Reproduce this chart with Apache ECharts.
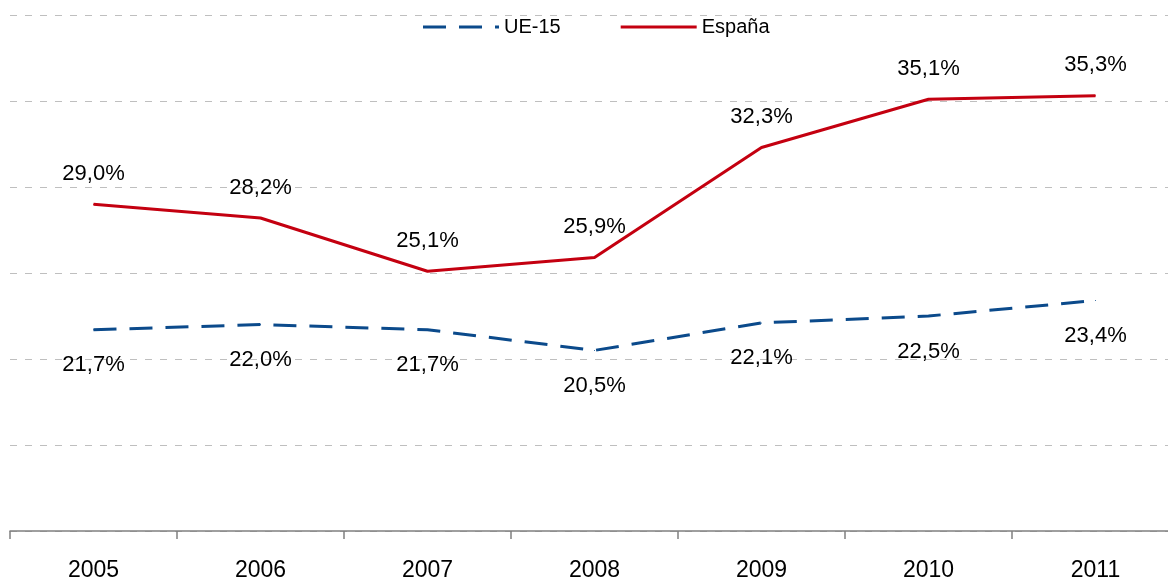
<!DOCTYPE html>
<html>
<head>
<meta charset="utf-8">
<script src="https://cdn.jsdelivr.net/npm/echarts@6/dist/echarts.min.js"></script>
<style>
  html, body { margin: 0; padding: 0; background: #fff; }
  #chart { width: 1168px; height: 579px; }
</style>
</head>
<body>
<div id="chart"></div>
<script>
// years and values (%)
var years = ['2005', '2006', '2007', '2008', '2009', '2010', '2011']
var ue15 = [21.7, 22.0, 21.7, 20.5, 22.1, 22.5, 23.4]
var espana = [29.0, 28.2, 25.1, 25.9, 32.3, 35.1, 35.3]

var font = '"Liberation Sans", Arial, sans-serif'
var blue = '#0b4a8b'
var red = '#c40010'

function pct(p) {
  return p.value.toFixed(1).replace('.', ',') + '%'
}

var chart = echarts.init(document.getElementById('chart'))
chart.setOption({
  animation: false,
  backgroundColor: '#fff',
  legend: {
    top: 17,
    left: 423,
    padding: 0,
    itemWidth: 76,
    itemHeight: 3,
    itemGap: 60,
    textStyle: { fontFamily: font, fontSize: 20, color: '#000' },
    data: [
      { name: 'UE-15', icon: 'path://M0,0h23v3h-23z M36,0h23v3h-23z M72,0h4v3h-4z' },
      { name: 'España', icon: 'rect' }
    ]
  },
  grid: {
    left: 10,
    top: 15,
    width: 1169,
    height: 516,
    outerBoundsMode: 'none'
  },
  xAxis: {
    type: 'category',
    data: years,
    boundaryGap: true,
    axisLine: { lineStyle: { color: '#808080', width: 1.5 } },
    axisTick: { show: true, inside: false, length: 8, lineStyle: { color: '#808080', width: 1.5 } },
    axisLabel: { margin: 28, fontFamily: font, fontSize: 23, color: '#000' },
    splitLine: { show: false }
  },
  yAxis: {
    type: 'value',
    min: 10,
    max: 40,
    interval: 5,
    axisLine: { show: false },
    axisTick: { show: false },
    axisLabel: { show: false },
    splitLine: { lineStyle: { color: '#bfbfbf', width: 1, type: [7, 8] } }
  },
  series: [
    {
      name: 'UE-15',
      type: 'line',
      data: ue15,
      symbol: 'circle',
      symbolSize: 1,
      lineStyle: { color: blue, width: 3, type: [23, 13] },
      itemStyle: { color: blue },
      label: {
        show: true,
        position: 'bottom',
        distance: 24,
        formatter: pct,
        fontFamily: font,
        fontSize: 22,
        color: '#000'
      }
    },
    {
      name: 'España',
      type: 'line',
      data: espana,
      symbol: 'circle',
      symbolSize: 1,
      lineStyle: { color: red, width: 3 },
      itemStyle: { color: red },
      label: {
        show: true,
        position: 'top',
        distance: 19,
        formatter: pct,
        fontFamily: font,
        fontSize: 22,
        color: '#000'
      }
    }
  ]
})
</script>
</body>
</html>
